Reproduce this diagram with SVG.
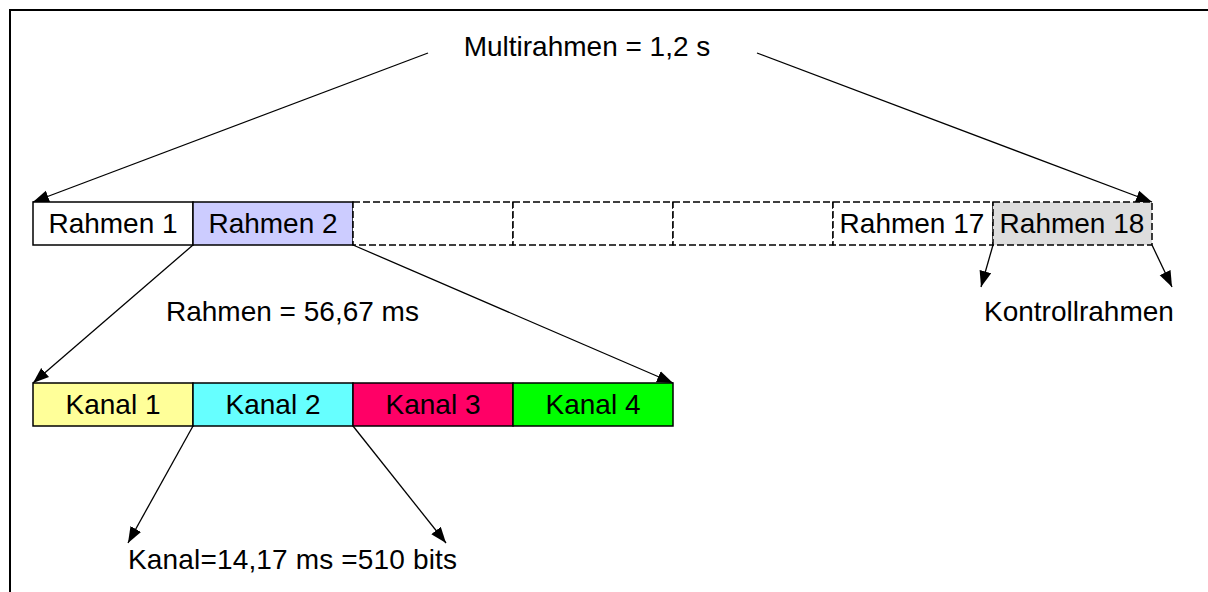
<svg xmlns="http://www.w3.org/2000/svg" width="1208" height="592" viewBox="0 0 1208 592">
  <style>
    .lbl { font-family: "Liberation Sans", Arial, sans-serif; font-size: 28px; fill: #000; }
    .mid { text-anchor: middle; }
    .cell { stroke: #000; stroke-width: 1.5; }
    .dash { stroke-dasharray: 7 3; }
    .conn { stroke: #000; stroke-width: 1.3; fill: none; marker-end: url(#head); }
  </style>
  <defs>
    <marker id="head" markerUnits="userSpaceOnUse" markerWidth="18" markerHeight="14" refX="16" refY="6" orient="auto">
      <path d="M0,0 L16,6 L0,12 Z" fill="#000"/>
    </marker>
  </defs>

  <rect width="1208" height="592" fill="#fff"/>
  <!-- page frame: top and left edges only -->
  <path d="M10,592 V10 H1208" fill="none" stroke="#000" stroke-width="2"/>

  <!-- multiframe row -->
  <g id="rahmen1"><rect class="cell" x="33" y="202" width="160" height="43" fill="#fff"/><text class="lbl mid" x="113" y="233">Rahmen 1</text></g>
  <g id="rahmen2"><rect class="cell" x="193" y="202" width="160" height="43" fill="#ccccff"/><text class="lbl mid" x="273" y="233">Rahmen 2</text></g>
  <g id="rahmen3"><rect class="cell dash" x="353" y="202" width="160" height="43" fill="#fff"/></g>
  <g id="rahmen4"><rect class="cell dash" x="513" y="202" width="160" height="43" fill="#fff"/></g>
  <g id="rahmen5"><rect class="cell dash" x="673" y="202" width="160" height="43" fill="#fff"/></g>
  <g id="rahmen17"><rect class="cell dash" x="833" y="202" width="160" height="43" fill="#fff"/><text class="lbl mid" x="912" y="233">Rahmen 17</text></g>
  <g id="rahmen18"><rect class="cell dash" x="993" y="202" width="159" height="43" fill="#dddddd"/><text class="lbl mid" x="1072" y="233">Rahmen 18</text></g>

  <!-- frame row: four channels -->
  <g id="kanal1"><rect class="cell" x="33" y="383" width="160" height="43" fill="#ffff99"/><text class="lbl mid" x="113" y="414">Kanal 1</text></g>
  <g id="kanal2"><rect class="cell" x="193" y="383" width="160" height="43" fill="#66ffff"/><text class="lbl mid" x="273" y="414">Kanal 2</text></g>
  <g id="kanal3"><rect class="cell" x="353" y="383" width="160" height="43" fill="#ff0066"/><text class="lbl mid" x="433" y="414">Kanal 3</text></g>
  <g id="kanal4"><rect class="cell" x="513" y="383" width="160" height="43" fill="#00ff00"/><text class="lbl mid" x="593" y="414">Kanal 4</text></g>

  <!-- captions -->
  <g id="multirahmen"><text class="lbl mid" x="587" y="56">Multirahmen = 1,2 s</text></g>
  <g id="rahmenDauer"><text class="lbl" x="166" y="321">Rahmen = 56,67 ms</text></g>
  <g id="kontrollrahmen"><text class="lbl" x="984" y="321">Kontrollrahmen</text></g>
  <g id="kanalDauer"><text class="lbl" x="128" y="569" textLength="329">Kanal=14,17 ms =510 bits</text></g>

  <!-- connectors -->
  <g id="connectors">
    <line class="conn" x1="428" y1="53" x2="33" y2="202"/>
    <line class="conn" x1="757" y1="53" x2="1152" y2="202"/>
    <line class="conn" x1="193" y1="245" x2="33" y2="383"/>
    <line class="conn" x1="353" y1="245" x2="673" y2="383"/>
    <line class="conn" x1="193" y1="426" x2="128" y2="543"/>
    <line class="conn" x1="353" y1="426" x2="446" y2="543"/>
    <line class="conn" x1="993" y1="245" x2="981" y2="287"/>
    <line class="conn" x1="1152" y1="245" x2="1172" y2="287"/>
  </g>
</svg>
